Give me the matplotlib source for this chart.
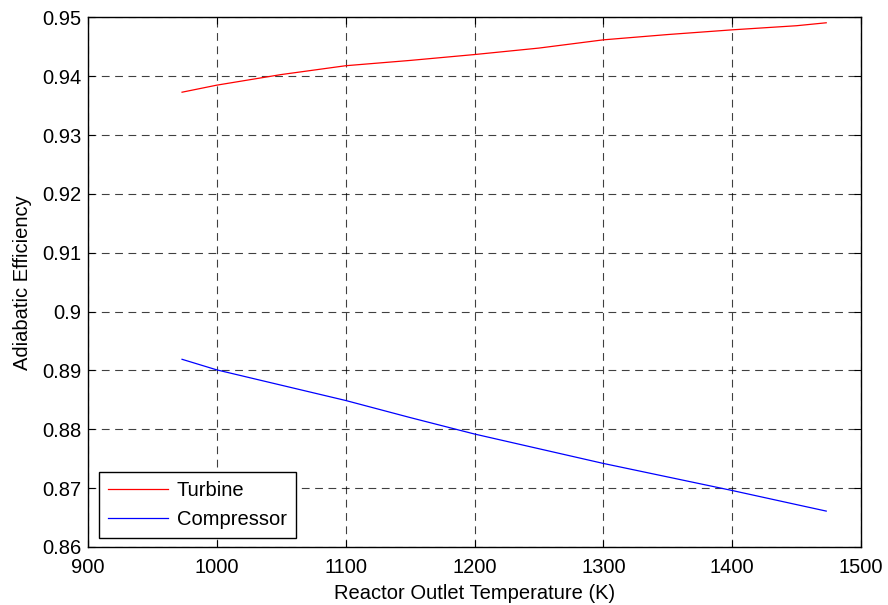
import numpy as np
import matplotlib
matplotlib.use('Agg')
import matplotlib.pyplot as plt
from matplotlib.ticker import FormatStrFormatter

# reactor outlet temperature (K)
temps = [973, 1000, 1050, 1100, 1150, 1200, 1250, 1300, 1350, 1400, 1450, 1473]
# turbine adiabatic efficiency
turbine = [0.9373, 0.9385, 0.9403, 0.9418, 0.9427, 0.9437, 0.9448, 0.9462, 0.9471, 0.9479, 0.9486, 0.9491]
# compressor adiabatic efficiency
compressor = [0.8919, 0.8901, 0.8875, 0.8849, 0.8820, 0.8792, 0.8767, 0.8742, 0.8719, 0.8696, 0.8672, 0.8661]

xticks = [900, 1000, 1100, 1200, 1300, 1400, 1500]
yticks = [0.86, 0.87, 0.88, 0.89, 0.9, 0.91, 0.92, 0.93, 0.94, 0.95]

fs = 14.5
plt.rcParams['font.family'] = ['Liberation Sans', 'DejaVu Sans']
plt.rcParams['font.size'] = fs

fig = plt.figure(figsize=(8.88, 6.05), dpi=100)
ax = fig.add_axes([0.0991, 0.0959, 0.8705, 0.8752])

ax.plot(temps, turbine, color='red', lw=0.9, label='Turbine')
ax.plot(temps, compressor, color='blue', lw=0.9, label='Compressor')

ax.set_xlim(900, 1500)
ax.set_ylim(0.86, 0.95)
ax.set_xticks(xticks)
ax.set_yticks(yticks)
ax.yaxis.set_major_formatter(FormatStrFormatter('%g'))

ax.grid(True, color='k', linestyle=(0, (7, 5)), lw=0.8, alpha=0.75)
ax.tick_params(direction='in', top=True, right=True, length=5, width=0.8, labelsize=fs)
ax.tick_params(axis='x', pad=8)
ax.tick_params(axis='y', pad=5)
for sp in ax.spines.values():
    sp.set_linewidth(1.0)

ax.set_xlabel('Reactor Outlet Temperature (K)', fontsize=fs, labelpad=5)
ax.set_ylabel('Adiabatic Efficiency', fontsize=fs, labelpad=7)

leg = ax.legend(loc='lower left', bbox_to_anchor=(0.0142, 0.017), borderaxespad=0,
                fancybox=False, framealpha=1, edgecolor='k', fontsize=fs,
                handlelength=3.0, handletextpad=0.4, borderpad=0.45, labelspacing=0.5)
leg.get_frame().set_linewidth(1.0)

fig.savefig('out.png', dpi=100)
